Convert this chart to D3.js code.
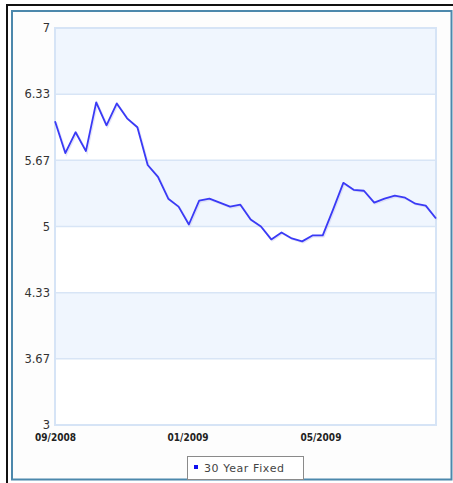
<!DOCTYPE html>
<html>
<head>
<meta charset="utf-8">
<script src="https://cdn.jsdelivr.net/npm/d3@7"></script>
<style>
  html, body { margin: 0; padding: 0; background: #ffffff; }
  svg { display: block; }
</style>
</head>
<body>
<svg id="chart" width="453" height="483"></svg>
<script>
// ---- data ----
const seriesName = "30 Year Fixed";
const rates = [6.06, 5.74, 5.95, 5.76, 6.25, 6.02, 6.24, 6.09, 6.00, 5.62,
               5.50, 5.28, 5.20, 5.02, 5.26, 5.28, 5.24, 5.20, 5.22, 5.07,
               5.00, 4.87, 4.94, 4.88, 4.85, 4.91, 4.91, 5.17, 5.44, 5.37,
               5.36, 5.24, 5.28, 5.31, 5.29, 5.23, 5.21, 5.08];
const yTickValues = [3, 3 + 2/3, 4 + 1/3, 5, 5 + 2/3, 6 + 1/3, 7];
const yTickLabels = ["3", "3.67", "4.33", "5", "5.67", "6.33", "7"];
const xTickIndex = [0, 12.87, 25.78];
const xTickLabels = ["09/2008", "01/2009", "05/2009"];

// ---- layout ----
const svg = d3.select("#chart");
const W = 453, H = 483;
const plot = { left: 55, right: 436, top: 28, bottom: 425 };

// frame
svg.append("line").attr("x1", 7).attr("x2", 7).attr("y1", 4).attr("y2", H)
  .attr("stroke", "#111").attr("stroke-width", 2);
svg.append("line").attr("x1", 6).attr("x2", W).attr("y1", 5).attr("y2", 5)
  .attr("stroke", "#111").attr("stroke-width", 2);
svg.append("rect").attr("x", 12).attr("y", 11).attr("width", 439.5).attr("height", 468.5)
  .attr("fill", "#fdfdfd").attr("stroke", "#4c88ac").attr("stroke-width", 2);

const x = d3.scaleLinear().domain([0, rates.length - 1]).range([plot.left, plot.right]);
const y = d3.scaleLinear().domain([3, 7]).range([plot.bottom, plot.top]);

// bands
const bands = [];
for (let i = 0; i < yTickValues.length - 1; i++) {
  bands.push({ lo: yTickValues[i], hi: yTickValues[i + 1], fill: (i % 2 === 1) });
}
svg.append("rect").attr("x", plot.left).attr("y", plot.top)
  .attr("width", plot.right - plot.left).attr("height", plot.bottom - plot.top)
  .attr("fill", "#ffffff");
svg.selectAll("rect.band").data(bands.filter(b => b.fill)).join("rect")
  .attr("class", "band")
  .attr("x", plot.left).attr("width", plot.right - plot.left)
  .attr("y", d => y(d.hi)).attr("height", d => y(d.lo) - y(d.hi))
  .attr("fill", "#f0f6fe");

// grid lines
svg.selectAll("line.grid").data(yTickValues).join("line")
  .attr("class", "grid")
  .attr("x1", plot.left).attr("x2", plot.right)
  .attr("y1", d => y(d)).attr("y2", d => y(d))
  .attr("stroke", "#d8e5f6").attr("stroke-width", 1.5);
svg.append("rect").attr("x", plot.left).attr("y", plot.top)
  .attr("width", plot.right - plot.left).attr("height", plot.bottom - plot.top)
  .attr("fill", "none").attr("stroke", "#d6e4f6").attr("stroke-width", 2);

// y axis labels
const yAxis = d3.axisLeft(y).tickValues(yTickValues)
  .tickFormat((d, i) => yTickLabels[i]).tickSize(0).tickPadding(5);
const gy = svg.append("g").attr("transform", `translate(${plot.left},0)`).call(yAxis);
gy.select(".domain").remove();
gy.selectAll("text").attr("font-family", "DejaVu Sans, Verdana, sans-serif")
  .attr("font-size", "11.5px").attr("fill", "#333");

// x axis labels
const xAxis = d3.axisBottom(x).tickValues(xTickIndex)
  .tickFormat((d, i) => xTickLabels[i]).tickSize(0).tickPadding(0);
const gx = svg.append("g").attr("transform", `translate(0,${plot.bottom + 9})`).call(xAxis);
gx.select(".domain").remove();
gx.selectAll("text").attr("font-family", "DejaVu Sans Condensed, DejaVu Sans, sans-serif")
  .attr("font-weight", "bold").attr("font-size", "10px").attr("fill", "#222");

// line
const line = d3.line().x((d, i) => x(i)).y(d => y(d));
svg.append("path").datum(rates)
  .attr("d", line)
  .attr("fill", "none").attr("stroke", "#c9c9f0").attr("stroke-width", 2)
  .attr("transform", "translate(1,1)").attr("opacity", 0.5);
svg.append("path").datum(rates)
  .attr("d", line)
  .attr("fill", "none").attr("stroke", "#3a3af6").attr("stroke-width", 1.8)
  .attr("stroke-linejoin", "round");

// legend
const lg = svg.append("g");
lg.append("rect").attr("x", 187.5).attr("y", 456.5).attr("width", 116).attr("height", 23)
  .attr("fill", "#ffffff").attr("stroke", "#8a8a8a").attr("stroke-width", 1);
lg.append("rect").attr("x", 194).attr("y", 465).attr("width", 4).attr("height", 4)
  .attr("fill", "#1010ee");
lg.append("text").attr("x", 204).attr("y", 472).text(seriesName)
  .attr("font-family", "DejaVu Sans, Verdana, sans-serif").attr("font-size", "11px")
  .attr("letter-spacing", "0.6px").attr("fill", "#444");
</script>
</body>
</html>
